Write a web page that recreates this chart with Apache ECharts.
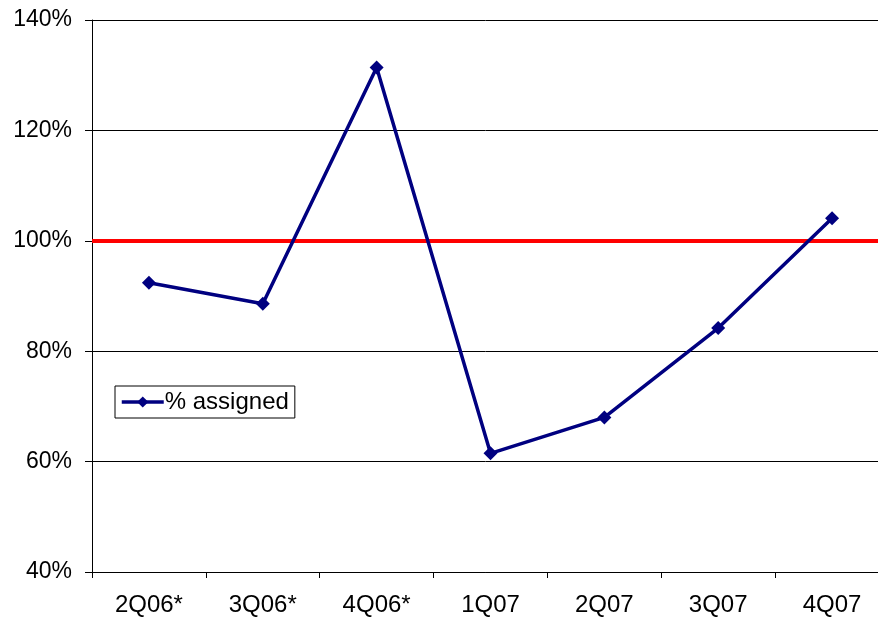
<!DOCTYPE html>
<html><head><meta charset="utf-8">
<script src="https://cdn.jsdelivr.net/npm/echarts@6/dist/echarts.min.js"></script>
<style>html,body{margin:0;padding:0;background:#fff}#c{width:878px;height:618px}</style>
</head><body><div id="c"></div>
<script>
const categories = ['2Q06*','3Q06*','4Q06*','1Q07','2Q07','3Q07','4Q07'];
const assigned = [92.4, 88.6, 131.4, 61.5, 68.0, 84.2, 104.1];
const targetLevel = 100;
const yTicks = {min: 40, max: 140, interval: 20};

const chart = echarts.init(document.getElementById('c'), null, {renderer: 'canvas'});
const font = 'Liberation Sans, Arial, sans-serif';
chart.setOption({
  animation: false,
  grid: {left: 92, top: 20, width: 797, height: 552, containLabel: false, outerBoundsMode: 'none'},
  legend: {
    data: ['% assigned'], left: 115, top: 386, orient: 'vertical',
    borderColor: '#000', borderWidth: 1, padding: [4, 6, 4, 5],
    itemWidth: 42, itemHeight: 14, itemGap: 0,
    lineStyle: {width: 3.5, color: '#000080'},
    textStyle: {fontFamily: font, fontSize: 24, color: '#000', padding: [0, 0, 0, -4]}
  },
  xAxis: {
    type: 'category', data: categories, boundaryGap: true,
    axisLine: {lineStyle: {color: '#000', width: 1}},
    axisTick: {show: true, length: 6, lineStyle: {color: '#000'}},
    axisLabel: {fontFamily: font, fontSize: 24, color: '#000', margin: 21},
    splitLine: {show: false}
  },
  yAxis: {
    type: 'value', min: yTicks.min, max: yTicks.max, interval: yTicks.interval,
    axisLine: {show: true, lineStyle: {color: '#000', width: 1}},
    axisTick: {show: true, length: 7, lineStyle: {color: '#000'}},
    axisLabel: {fontFamily: font, fontSize: 23, color: '#000', margin: 20, formatter: '{value}%', padding: [4, 0, 0, 0]},
    splitLine: {show: true, lineStyle: {color: '#000', width: 1}}
  },
  series: [{
    name: '% assigned', type: 'line', data: assigned,
    symbol: 'diamond', symbolSize: 14,
    lineStyle: {color: '#000080', width: 3.5},
    itemStyle: {color: '#000080'},
    z: 3,
    markLine: {
      silent: true, symbol: ['none', 'none'], label: {show: false},
      lineStyle: {color: '#ff0000', width: 4, type: 'solid'},
      data: [{yAxis: targetLevel}], z: 2
    }
  }]
});
</script></body></html>
